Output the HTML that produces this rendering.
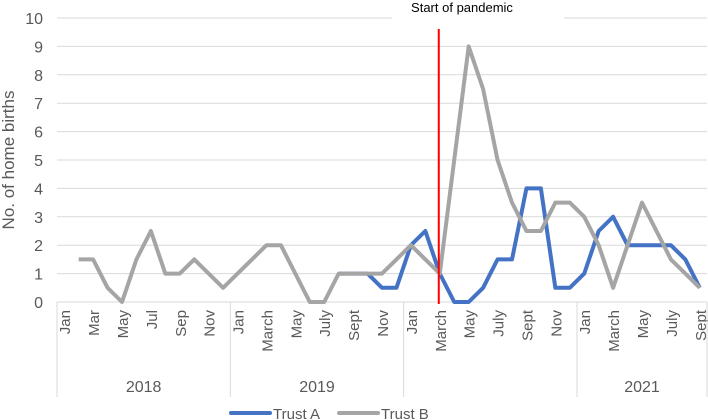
<!DOCTYPE html>
<html><head><meta charset="utf-8"><style>
body{margin:0;background:#fff;}
svg{display:block;font-family:"Liberation Sans",sans-serif;}
</style></head><body>
<svg id="c" width="708" height="420" viewBox="0 0 708 420">
<g id="grid"></g>
<g id="yt"></g>
<g id="xt"></g>
<g id="series"></g>
<rect x="392" y="0" width="172" height="24" fill="#fff"/>
<text x="462" y="12" text-anchor="middle" font-size="13" fill="#000">Start of pandemic</text>
<text transform="translate(14,160) rotate(-90)" text-anchor="middle" font-size="17" fill="#595959">No. of home births</text>
<g>
<line x1="231" y1="413" x2="270" y2="413" stroke="#4472C4" stroke-width="4" stroke-linecap="round"/>
<text x="273" y="419" font-size="15" fill="#595959">Trust A</text>
<line x1="339" y1="413" x2="378" y2="413" stroke="#A5A5A5" stroke-width="4" stroke-linecap="round"/>
<text x="381" y="419" font-size="15" fill="#595959">Trust B</text>
</g>
</svg>
<script>
const years = ["2018","2019","2020","2021"];
const monthsPerYear = [12,12,12,9];
const monthLabels = ["Jan","","Mar","","May","","Jul","","Sep","","Nov","",
 "Jan","","March","","May","","July","","Sept","","Nov","",
 "Jan","","March","","May","","July","","Sept","","Nov","",
 "Jan","","March","","May","","July","","Sept"];
const trustA = [null,null,null,null,null,null,null,null,null,null,null,null,
 null,null,null,null,null,null,null,1,1,1,0.5,0.5,
 2,2.5,1,0,0,0.5,1.5,1.5,4,4,0.5,0.5,
 1,2.5,3,2,2,2,2,1.5,0.5];
const trustB = [null,1.5,1.5,0.5,0,1.5,2.5,1,1,1.5,1,0.5,
 1,1.5,2,2,1,0,0,1,1,1,1,1.5,
 2,1.5,1,5,9,7.5,5,3.5,2.5,2.5,3.5,3.5,
 3,2,0.5,2,3.5,2.5,1.5,1,0.5];
const yTicks = [0,1,2,3,4,5,6,7,8,9,10];
const pandemicIndex = 26;

const NS="http://www.w3.org/2000/svg";
const L=57,R=707,T=18,B=302,N=monthLabels.length;
const step=(R-L)/N;
const x=i=>L+step*(i+0.5);
const y=v=>B-(v/10)*(B-T);
function mk(tag,attrs,parent){const e=document.createElementNS(NS,tag);for(const k in attrs)e.setAttribute(k,attrs[k]);parent.appendChild(e);return e;}
const grid=document.getElementById('grid'),yt=document.getElementById('yt'),xt=document.getElementById('xt'),ser=document.getElementById('series');
yTicks.forEach(v=>{
 const g=mk('line',{x1:L,x2:R,y1:y(v),y2:y(v),stroke:'#d9d9d9','stroke-width':1},grid);
 
 
 const t=mk('text',{x:43,y:y(v)+6,'text-anchor':'end','font-size':16,fill:'#595959'},yt);
 
 
 t.textContent=v;
});
monthLabels.forEach((m,i)=>{
 if(!m)return;
 const t=mk('text',{transform:`translate(${x(i)+6},310) rotate(-90)`,'text-anchor':'end','font-size':15,fill:'#595959'},xt);
 
 
 t.textContent=m;
});
let start=0;
const sep=mk('line',{x1:L,x2:L,y1:B,y2:397,stroke:'#d9d9d9'},xt);


years.forEach((yr,k)=>{
 const end=start+monthsPerYear[k];
 const xe=L+step*end;
 const s=mk('line',{x1:xe,x2:xe,y1:B,y2:397,stroke:'#d9d9d9'},xt);
 
 
 if(yr!=="2020"){
  const t=mk('text',{x:(L+step*start+xe)/2,y:392,'text-anchor':'middle','font-size':16,fill:'#595959'},xt);
  
  
  t.textContent=yr;
 }
 start=end;
});
const ax=mk('line',{x1:L,x2:R,y1:B,y2:B,stroke:'#d9d9d9'},xt);


function path(arr,color,name){
 let d='',pen=false;
 arr.forEach((v,i)=>{if(v==null){pen=false;return;}d+=(pen?'L':'M')+x(i)+','+y(v);pen=true;});
 const p=mk('path',{d:d,fill:'none',stroke:color,'stroke-width':4,'stroke-linejoin':'round'},ser);
 
 
}
path(trustA,'#4472C4','trust-a-line');
path(trustB,'#A5A5A5','trust-b-line');
const red=mk('line',{x1:x(pandemicIndex)-1,x2:x(pandemicIndex)-1,y1:29,y2:304,stroke:'#FF0000','stroke-width':2},ser);


</script>
</body></html>
